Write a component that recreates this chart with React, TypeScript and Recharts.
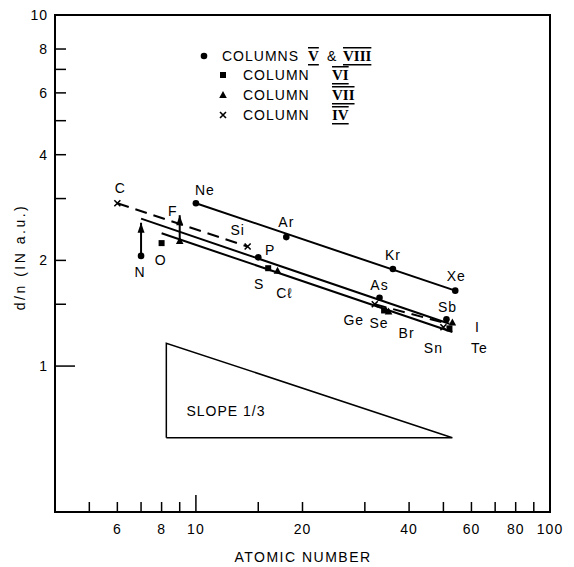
import { ComposedChart, XAxis, YAxis, Scatter, Line, ReferenceArea } from 'recharts'

document.body.style.margin = '0'

const FONT = '"Liberation Sans", Arial, sans-serif'

// atomic number vs d/n (a.u.)
const colVandVIII = [
  { name: 'N', x: 7, y: 2.06 },
  { name: 'Ne', x: 10, y: 2.91 },
  { name: 'P', x: 15, y: 2.04 },
  { name: 'Ar', x: 18, y: 2.33 },
  { name: 'As', x: 33, y: 1.565 },
  { name: 'Kr', x: 36, y: 1.89 },
  { name: 'Sb', x: 51, y: 1.36 },
  { name: 'Xe', x: 54, y: 1.64 },
]
const colVI = [
  { name: 'O', x: 8, y: 2.24 },
  { name: 'S', x: 16, y: 1.9 },
  { name: 'Se', x: 34, y: 1.44 },
  { name: 'Te', x: 52, y: 1.28 },
]
const colVII = [
  { name: 'F', x: 9, y: 2.27 },
  { name: 'Cℓ', x: 17, y: 1.87 },
  { name: 'Br', x: 35, y: 1.43 },
  { name: 'I', x: 53, y: 1.33 },
]
const colIV = [
  { name: 'C', x: 6, y: 2.91 },
  { name: 'Si', x: 14, y: 2.19 },
  { name: 'Ge', x: 32, y: 1.5 },
  { name: 'Sn', x: 50, y: 1.29 },
]

// straight fits
const fitNoble = [{ x: 10, y: 2.91 }, { x: 54, y: 1.64 }]
const fitUpper = [{ x: 7, y: 2.63 }, { x: 52, y: 1.32 }]
const fitLower = [{ x: 8, y: 2.39 }, { x: 53, y: 1.25 }]
const fitIVa = [{ x: 6, y: 2.91 }, { x: 14, y: 2.19 }]
const fitIVb = [{ x: 32, y: 1.5 }, { x: 50, y: 1.33 }]

const arrowN = [{ x: 7, y: 2.06 }, { x: 7, y: 2.56 }]
const arrowF = [{ x: 9, y: 2.27 }, { x: 9, y: 2.69 }]

const slopeTriangle = [
  { x: 8.25, y: 0.625 },
  { x: 8.25, y: 1.162 },
  { x: 53, y: 0.625 },
  { x: 8.25, y: 0.625 },
]

const X_TICKS = [5, 6, 7, 8, 9, 10, 15, 20, 30, 40, 50, 60, 70, 80, 90, 100]
const X_LABELS = [6, 8, 10, 20, 40, 60, 80, 100]
const Y_TICKS = [1, 1.5, 2, 3, 4, 5, 6, 7, 8, 10]
const Y_LABELS = [1, 2, 4, 6, 8, 10]

// label placement relative to marker (px)
const LABEL_OFFSET: Record<string, [number, number]> = {
  N: [-1, 16], Ne: [9, -13], P: [12, -7], Ar: [0, -15], As: [0, -13], Kr: [0, -14], Sb: [1, -12], Xe: [1, -15],
  O: [-1, 17], S: [-9, 16], Se: [-5, 13], Te: [30, 20],
  F: [-7, -30], 'Cℓ': [7, 22], Br: [18, 21], I: [25, 4],
  C: [3, -15], Si: [-10, -17], Ge: [-21, 16], Sn: [-10, 21],
}

const PL = 55
const PB = 512

const txt = { fontFamily: FONT, fontSize: 14, fill: '#000', letterSpacing: 1 }

function marker(kind: string) {
  return (p: any) => {
    const { cx, cy, payload } = p
    const [dx, dy] = LABEL_OFFSET[payload.name] ?? [0, -14]
    let m = null
    if (kind === 'circle') m = <circle cx={cx} cy={cy} r={3.3} fill="#000" />
    if (kind === 'square') m = <rect x={cx - 3} y={cy - 3} width={6} height={6} fill="#000" />
    if (kind === 'triangle') m = <path d={`M${cx},${cy - 4} L${cx + 3.8},${cy + 3} L${cx - 3.8},${cy + 3} Z`} fill="#000" />
    if (kind === 'cross')
      m = <path d={`M${cx - 3},${cy - 3} L${cx + 3},${cy + 3} M${cx + 3},${cy - 3} L${cx - 3},${cy + 3}`} stroke="#000" strokeWidth={1.6} />
    return (
      <g>
        {m}
        <text x={cx + dx} y={cy + dy} textAnchor="middle" dominantBaseline="central" style={txt}>
          {payload.name}
        </text>
      </g>
    )
  }
}

const arrowHead = (p: any) =>
  p.index === 1 ? (
    <path key={`a${p.index}`} d={`M${p.cx},${p.cy} l-3.5,10 l7,0 z`} fill="#000" />
  ) : (
    <g key={`a${p.index}`} />
  )

const XTick = (p: any) => {
  const v = p.payload.value
  const x = p.x
  const len = v === 10 ? 17 : 10
  return (
    <g>
      {v !== 100 && <line x1={x} x2={x} y1={PB} y2={PB - len} stroke="#000" strokeWidth={1.5} />}
      {X_LABELS.includes(v) && (
        <text x={x} y={PB + 17} textAnchor="middle" dominantBaseline="central" style={txt}>
          {v}
        </text>
      )}
    </g>
  )
}

const YTick = (p: any) => {
  const v = p.payload.value
  const y = p.y
  const len = v === 1 ? 20 : 11
  return (
    <g>
      {v !== 10 && <line x1={PL} x2={PL + len} y1={y} y2={y} stroke="#000" strokeWidth={1.5} />}
      {Y_LABELS.includes(v) && (
        <text x={PL - 7} y={y} textAnchor="end" dominantBaseline="central" style={txt}>
          {v}
        </text>
      )}
    </g>
  )
}

const roman = { fontFamily: '"Liberation Serif", serif', fontSize: 15, fontWeight: 700, textDecoration: 'underline overline', fill: '#000' }

function LegendBox() {
  const rows = [
    { kind: 'square', num: 'VI', y: 75 },
    { kind: 'triangle', num: 'VII', y: 95 },
    { kind: 'cross', num: 'IV', y: 115 },
  ]
  return (
    <svg width={574} height={567} style={{ position: 'absolute', left: 0, top: 0, pointerEvents: 'none' }}>
      <circle cx={204} cy={56} r={3.3} fill="#000" />
      <text x={222} y={56} dominantBaseline="central" style={txt}>COLUMNS</text>
      <text x={308} y={56} dominantBaseline="central" style={roman}>V</text>
      <text x={327} y={56} dominantBaseline="central" style={txt}>&amp;</text>
      <text x={343} y={56} dominantBaseline="central" style={roman}>VIII</text>
      {rows.map((r) => (
        <g key={r.num}>
          {marker(r.kind)({ cx: 223, cy: r.y, payload: { name: '' } })}
          <text x={243} y={r.y} dominantBaseline="central" style={txt}>COLUMN</text>
          <text x={332} y={r.y} dominantBaseline="central" style={roman}>{r.num}</text>
        </g>
      ))}
      <text x={226} y={411} textAnchor="middle" dominantBaseline="central" style={txt}>SLOPE 1/3</text>
      <text x={303} y={557} textAnchor="middle" dominantBaseline="central" style={{ ...txt, letterSpacing: 1.5 }}>
        ATOMIC NUMBER
      </text>
      <text
        x={20}
        y={257}
        textAnchor="middle"
        dominantBaseline="central"
        transform="rotate(-90 20 257)"
        style={{ ...txt, letterSpacing: 2.5 }}
      >
        d/n  (IN  a.u.)
      </text>
    </svg>
  )
}

export default function App() {
  const lineProps = { dataKey: 'y', stroke: '#000', strokeWidth: 2, dot: false, isAnimationActive: false, legendType: 'none' as const }
  return (
    <div style={{ position: 'relative', width: 574, height: 567, background: '#fff' }}>
      <ComposedChart width={574} height={567} margin={{ top: 15, right: 24, bottom: 25, left: 25 }}>
        <XAxis
          dataKey="x"
          type="number"
          scale="log"
          domain={[4, 100]}
          ticks={X_TICKS}
          allowDataOverflow
          axisLine={false}
          tickLine={false}
          height={30}
          tick={XTick}
          interval={0}
        />
        <YAxis
          dataKey="y"
          type="number"
          scale="log"
          domain={[0.384, 10]}
          ticks={Y_TICKS}
          allowDataOverflow
          axisLine={false}
          tickLine={false}
          width={30}
          tick={YTick}
          interval={0}
        />
        <ReferenceArea x1={4} x2={100} y1={0.384} y2={10} fill="none" stroke="#000" strokeWidth={2} />
        <Line data={fitNoble} {...lineProps} />
        <Line data={fitUpper} {...lineProps} />
        <Line data={fitLower} {...lineProps} />
        <Line data={fitIVa} {...lineProps} strokeDasharray="12 7" />
        <Line data={fitIVb} {...lineProps} strokeDasharray="12 7" />
        <Line data={arrowN} {...lineProps} dot={arrowHead} />
        <Line data={arrowF} {...lineProps} dot={arrowHead} />
        <Line data={slopeTriangle} {...lineProps} strokeWidth={1.5} />
        <Scatter data={colVandVIII} shape={marker('circle')} isAnimationActive={false} />
        <Scatter data={colVI} shape={marker('square')} isAnimationActive={false} />
        <Scatter data={colVII} shape={marker('triangle')} isAnimationActive={false} />
        <Scatter data={colIV} shape={marker('cross')} isAnimationActive={false} />
      </ComposedChart>
      <LegendBox />
    </div>
  )
}
